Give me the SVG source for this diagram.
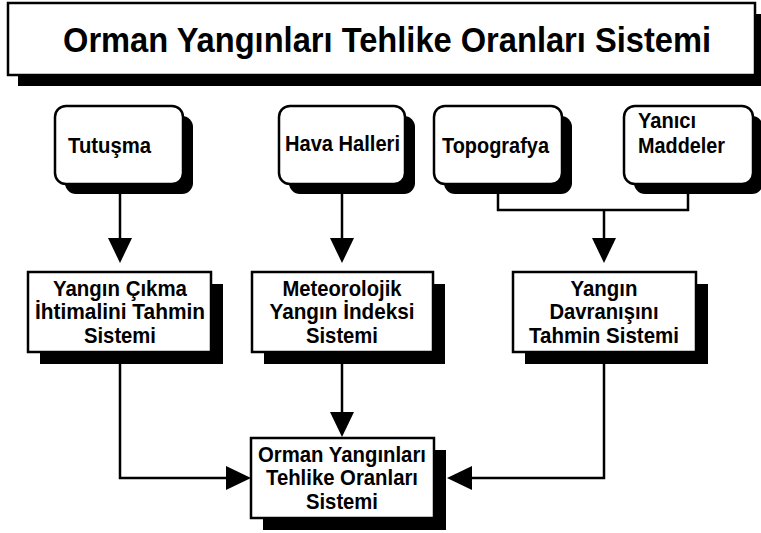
<svg xmlns="http://www.w3.org/2000/svg" width="761" height="533" viewBox="0 0 761 533">
<style>
.box{fill:#fff;stroke:#000;stroke-width:2.5}
.sh{fill:#000}
text{font-family:"Liberation Sans",Arial,sans-serif;font-weight:bold;fill:#000}
.t{font-size:22px}
.c{text-anchor:middle}
.ln{fill:none;stroke:#000;stroke-width:2.5}
</style>
<defs>
<polygon id="ad" points="-12,0 12,0 0,25" fill="#000"/>
</defs>
<rect width="761" height="533" fill="#fff"/>
<g id="title">
<rect class="sh" x="18" y="14" width="747" height="72"/>
<rect class="box" x="8" y="3" width="747" height="72"/>
<text x="387" y="52" font-size="35" class="c" textLength="648" lengthAdjust="spacingAndGlyphs">Orman Yangınları Tehlike Oranları Sistemi</text>
</g>
<g id="connectors">
<path class="ln" d="M120,184 V240"/>
<use href="#ad" x="120" y="238"/>
<path class="ln" d="M342,184 V240"/>
<use href="#ad" x="342" y="238"/>
<path class="ln" d="M498,188 V210 H688 V188"/>
<path class="ln" d="M604,210 V240"/>
<use href="#ad" x="604" y="238"/>
<path class="ln" d="M342,352 V414"/>
<use href="#ad" x="342" y="412"/>
<path class="ln" d="M120,352 V478 H228"/>
<polygon points="226,466 251,478 226,490" fill="#000"/>
<path class="ln" d="M604,352 V478 H470"/>
<polygon points="472,466 447,478 472,490" fill="#000"/>
</g>
<g id="tutusma">
<rect class="sh" x="65" y="116" width="128" height="78" rx="11"/>
<rect class="box" x="55" y="106" width="128" height="78" rx="11"/>
<text class="t" x="68" y="153" textLength="83" lengthAdjust="spacingAndGlyphs">Tutuşma</text>
</g>
<g id="hava">
<rect class="sh" x="289" y="116" width="126" height="78" rx="11"/>
<rect class="box" x="279" y="106" width="126" height="78" rx="11"/>
<text class="t" x="285" y="151" textLength="115" lengthAdjust="spacingAndGlyphs">Hava Halleri</text>
</g>
<g id="topografya">
<rect class="sh" x="444" y="116" width="128" height="78" rx="11"/>
<rect class="box" x="434" y="106" width="128" height="78" rx="11"/>
<text class="t" x="442" y="153" textLength="107" lengthAdjust="spacingAndGlyphs">Topografya</text>
</g>
<g id="yanici">
<rect class="sh" x="634" y="116" width="129" height="78" rx="11"/>
<rect class="box" x="624" y="106" width="129" height="78" rx="11"/>
<text class="t" x="638" y="128" textLength="58" lengthAdjust="spacingAndGlyphs">Yanıcı</text>
<text class="t" x="638" y="153" textLength="87" lengthAdjust="spacingAndGlyphs">Maddeler</text>
</g>
<g id="cikma">
<rect class="sh" x="40" y="284" width="183" height="80"/>
<rect class="box" x="28" y="272" width="183" height="80"/>
<text class="t c" x="120" y="296" textLength="134" lengthAdjust="spacingAndGlyphs">Yangın Çıkma</text>
<text class="t c" x="120" y="319" textLength="170" lengthAdjust="spacingAndGlyphs">İhtimalini Tahmin</text>
<text class="t c" x="120" y="343" textLength="72" lengthAdjust="spacingAndGlyphs">Sistemi</text>
</g>
<g id="meteoroloji">
<rect class="sh" x="264" y="284" width="181" height="80"/>
<rect class="box" x="252" y="272" width="181" height="80"/>
<text class="t c" x="342" y="296" textLength="119" lengthAdjust="spacingAndGlyphs">Meteorolojik</text>
<text class="t c" x="342" y="319" textLength="145" lengthAdjust="spacingAndGlyphs">Yangın İndeksi</text>
<text class="t c" x="342" y="343" textLength="72" lengthAdjust="spacingAndGlyphs">Sistemi</text>
</g>
<g id="davranis">
<rect class="sh" x="525" y="284" width="183" height="80"/>
<rect class="box" x="513" y="272" width="183" height="80"/>
<text class="t c" x="604" y="296" textLength="67" lengthAdjust="spacingAndGlyphs">Yangın</text>
<text class="t c" x="604" y="319" textLength="109" lengthAdjust="spacingAndGlyphs">Davranışını</text>
<text class="t c" x="604" y="343" textLength="150" lengthAdjust="spacingAndGlyphs">Tahmin Sistemi</text>
</g>
<g id="sonuc">
<rect class="sh" x="263" y="450" width="183" height="80"/>
<rect class="box" x="251" y="438" width="183" height="80"/>
<text class="t c" x="342" y="462" textLength="168" lengthAdjust="spacingAndGlyphs">Orman Yangınları</text>
<text class="t c" x="342" y="485" textLength="152" lengthAdjust="spacingAndGlyphs">Tehlike Oranları</text>
<text class="t c" x="342" y="509" textLength="72" lengthAdjust="spacingAndGlyphs">Sistemi</text>
</g>
</svg>
